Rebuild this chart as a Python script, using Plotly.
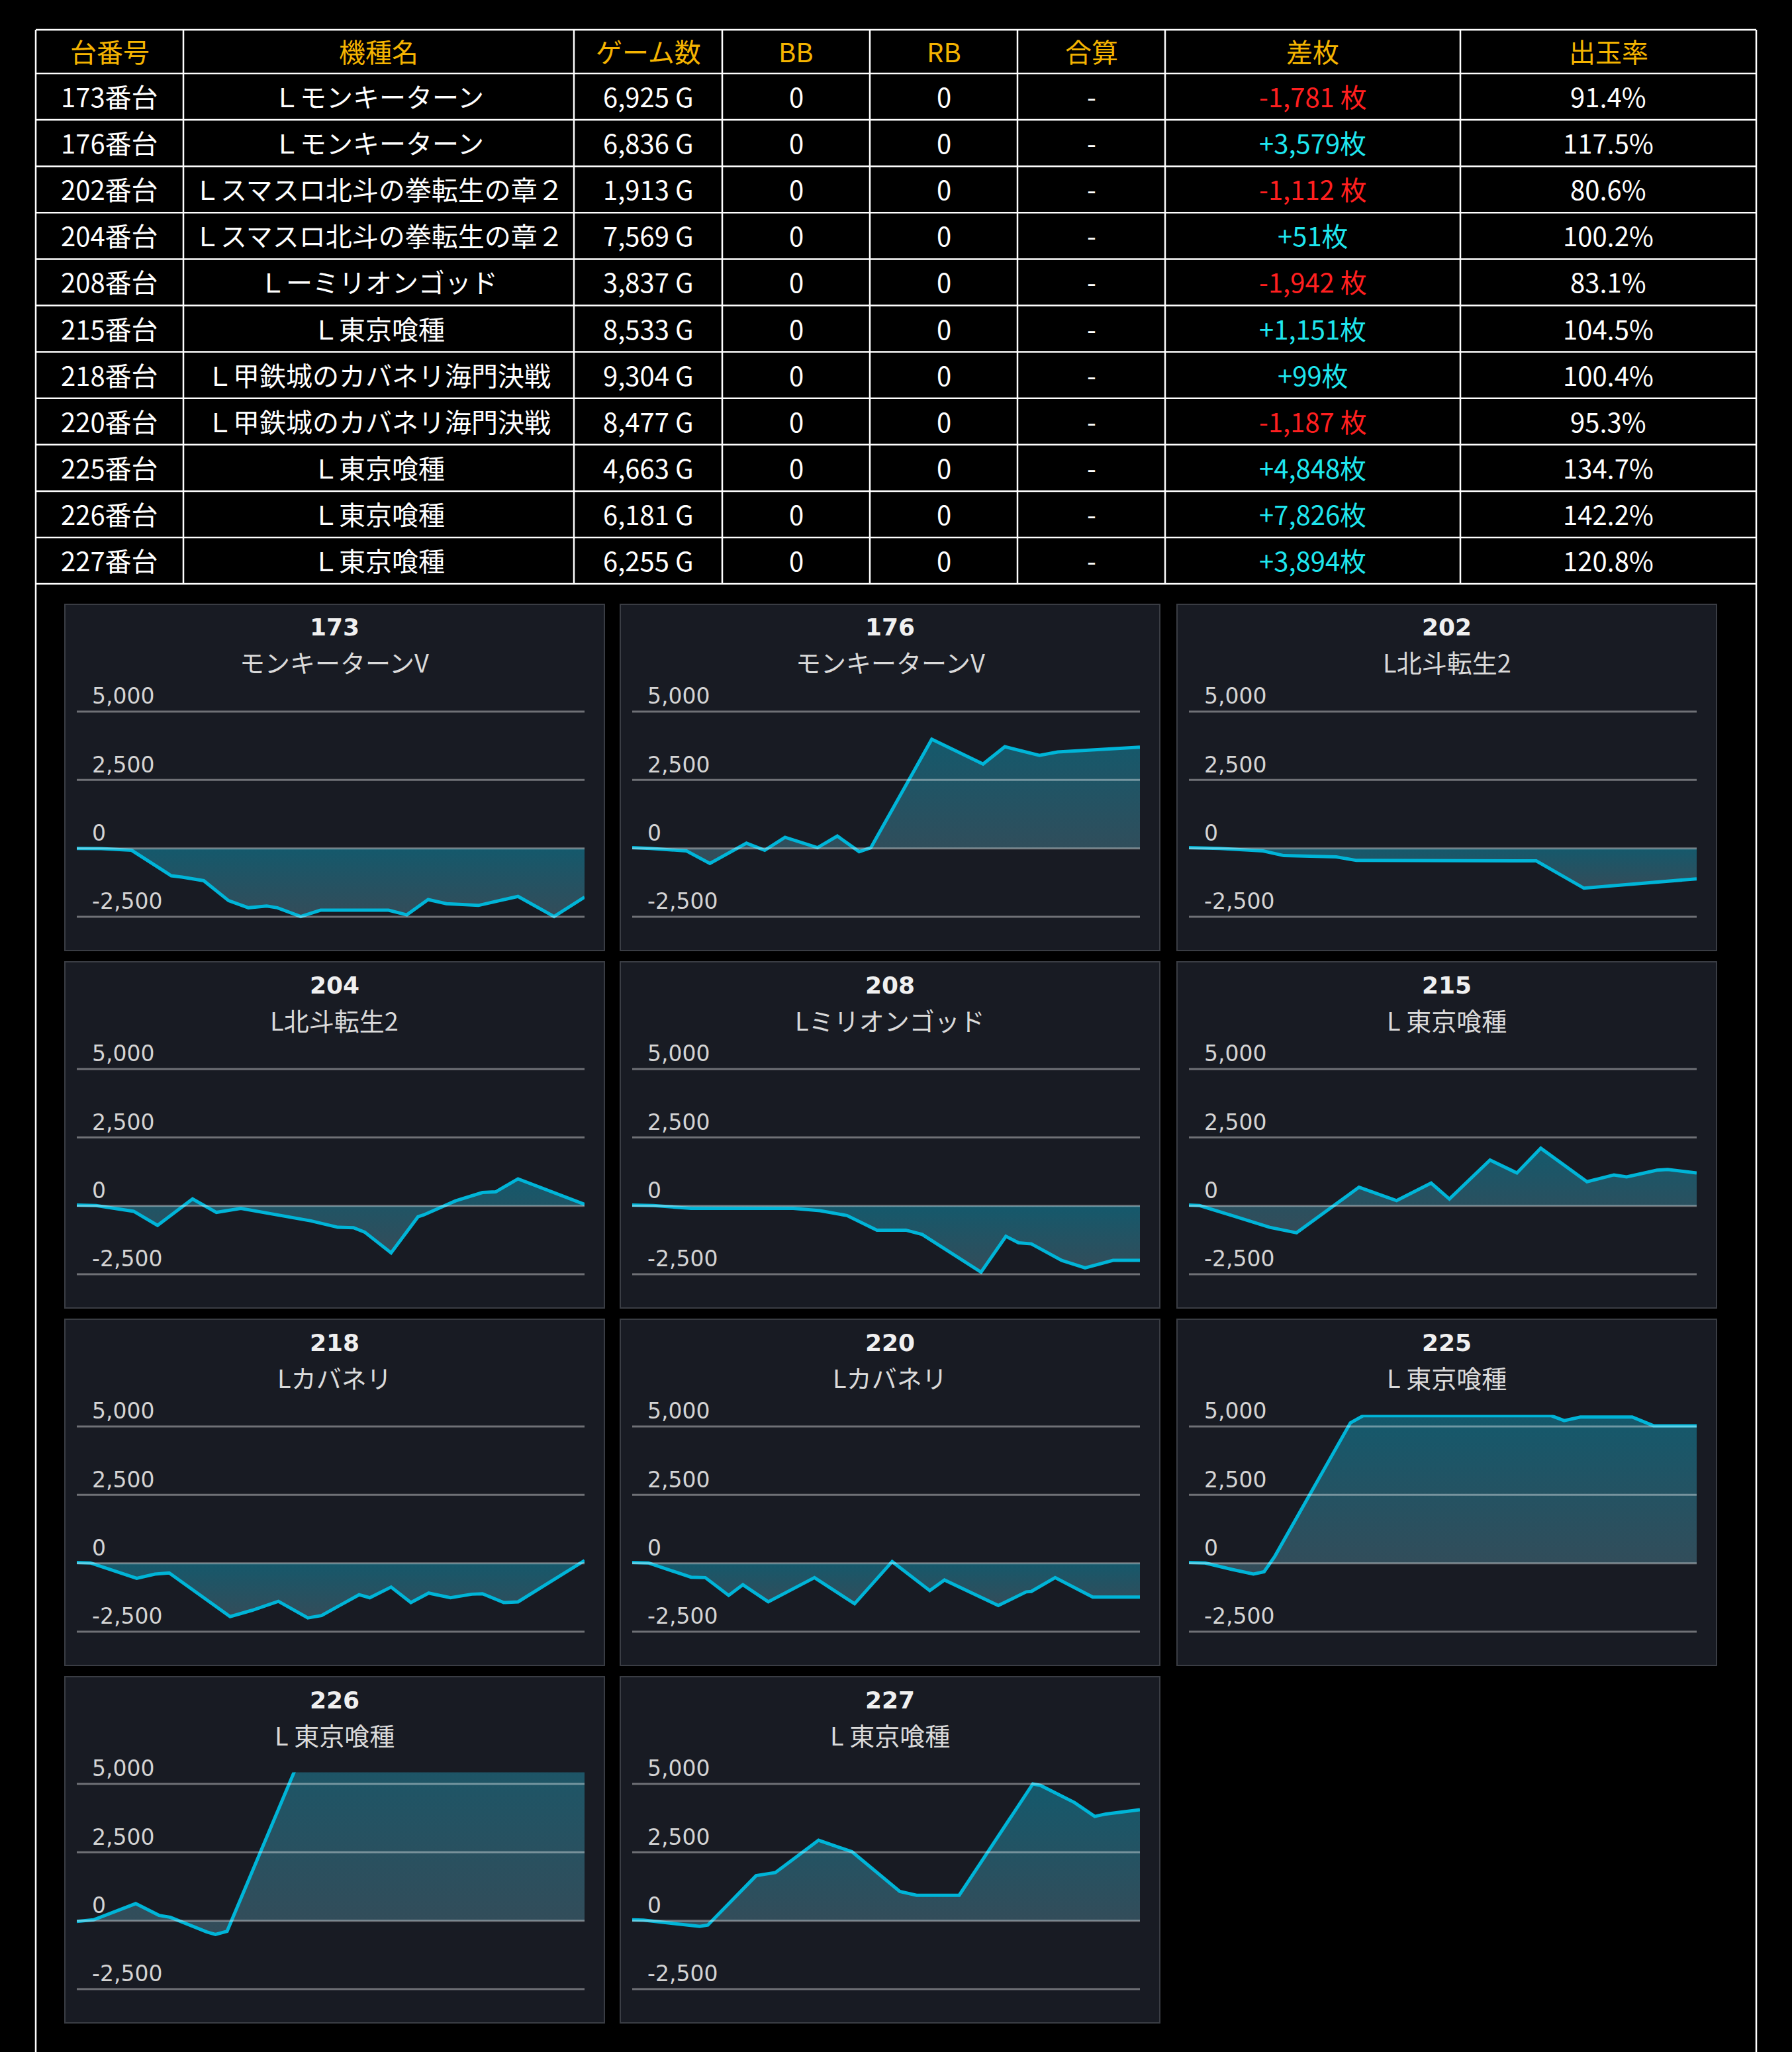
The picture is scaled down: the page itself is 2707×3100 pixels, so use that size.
import plotly.graph_objects as go

W, H = 2707, 3100

# ---- table data ----
unit_no = ["173番台", "176番台", "202番台", "204番台", "208番台", "215番台",
           "218番台", "220番台", "225番台", "226番台", "227番台"]
machine = ["Ｌモンキーターン", "Ｌモンキーターン", "Ｌスマスロ北斗の拳転生の章２",
           "Ｌスマスロ北斗の拳転生の章２", "Ｌーミリオンゴッド", "Ｌ東京喰種",
           "Ｌ甲鉄城のカバネリ海門決戦", "Ｌ甲鉄城のカバネリ海門決戦",
           "Ｌ東京喰種", "Ｌ東京喰種", "Ｌ東京喰種"]
games = ["6,925 G", "6,836 G", "1,913 G", "7,569 G", "3,837 G", "8,533 G",
         "9,304 G", "8,477 G", "4,663 G", "6,181 G", "6,255 G"]
bb = ["0", "0", "0", "0", "0", "0", "0", "0", "0", "0", "0"]
rb = ["0", "0", "0", "0", "0", "0", "0", "0", "0", "0", "0"]
total = ["-", "-", "-", "-", "-", "-", "-", "-", "-", "-", "-"]
diff = ["-1,781 枚", "+3,579枚", "-1,112 枚", "+51枚", "-1,942 枚", "+1,151枚",
        "+99枚", "-1,187 枚", "+4,848枚", "+7,826枚", "+3,894枚"]
rate = ["91.4%", "117.5%", "80.6%", "100.2%", "83.1%", "104.5%",
        "100.4%", "95.3%", "134.7%", "142.2%", "120.8%"]
headers = ["台番号", "機種名", "ゲーム数", "BB", "RB", "合算", "差枚", "出玉率"]

# ---- chart data (x = % of the day's games, y = 差枚) ----
panel_no = ["173", "176", "202", "204", "208", "215", "218", "220", "225", "226", "227"]
panel_name = ["モンキーターンV", "モンキーターンV", "L北斗転生2", "L北斗転生2",
              "Lミリオンゴッド", "L 東京喰種", "Lカバネリ", "Lカバネリ",
              "L 東京喰種", "L 東京喰種", "L 東京喰種"]

x173 = [0, 4.8, 10.8, 18.6, 20.7, 25.0, 29.9, 33.8, 37.4, 39.5, 44.1, 48.0, 61.4, 65.0,
        69.2, 72.8, 79.1, 86.9, 94.0, 100]
y173 = [0, -10, -70, -1000, -1050, -1180, -1910, -2170, -2110, -2170, -2490, -2260,
        -2260, -2430, -1870, -2020, -2085, -1755, -2490, -1781]

x176 = [0, 3.6, 10.7, 15.3, 22.5, 26.1, 30.1, 36.5, 40.4, 44.7, 47.0, 59.0, 69.1, 73.4,
        80.2, 83.8, 100]
y176 = [30, 0, -95, -550, 190, -70, 405, 25, 450, -120, 25, 3990, 3080, 3715, 3400,
        3525, 3700]

x202 = [0, 6.0, 14.6, 18.7, 29.0, 33.0, 68.4, 77.8, 100]
y202 = [25, 0, -95, -265, -310, -440, -455, -1455, -1112]

x204 = [0, 3.8, 11.2, 15.9, 22.8, 27.5, 32.3, 37.6, 46.1, 51.4, 54.5, 56.7, 61.9, 67.2,
        68.3, 74.6, 79.9, 82.5, 86.9, 100]
y204 = [25, 10, -200, -715, 250, -240, -95, -270, -550, -785, -800, -960, -1720, -400,
        -335, 180, 485, 510, 985, 51]

x208 = [0, 4.2, 11.6, 31.7, 37.0, 42.3, 48.2, 53.9, 57.1, 63.0, 68.7, 73.6, 76.1, 78.6,
        84.6, 89.2, 94.7, 100]
y208 = [25, 10, -95, -95, -180, -355, -890, -890, -1045, -1735, -2425, -1115, -1350,
        -1390, -1995, -2270, -1995, -1995]

x215 = [0, 2.1, 8.5, 15.9, 21.2, 33.5, 40.9, 47.7, 51.3, 59.3, 64.6, 69.3, 78.4, 83.7,
        86.2, 92.2, 94.3, 100]
y215 = [25, 10, -355, -785, -985, 680, 190, 830, 250, 1675, 1200, 2105, 880, 1130, 1055,
        1305, 1330, 1200]

x218 = [0, 2.7, 11.8, 15.4, 18.2, 30.2, 34.5, 39.7, 45.5, 48.2, 55.6, 57.7, 61.9, 65.8,
        69.3, 73.6, 77.8, 79.9, 84.1, 86.9, 100]
y218 = [25, 10, -550, -395, -355, -1950, -1720, -1390, -1995, -1910, -1150, -1260, -870,
        -1435, -1090, -1260, -1130, -1115, -1435, -1410, 99]

x220 = [0, 3.2, 11.6, 14.4, 19.0, 21.8, 26.8, 35.9, 43.8, 51.2, 58.6, 61.5, 72.1, 77.6,
        78.6, 83.3, 90.7, 100]
y220 = [25, 10, -510, -525, -1175, -785, -1410, -525, -1480, 60, -1000, -610, -1545,
        -1045, -1030, -525, -1235, -1235]

x225 = [0, 3.2, 8.5, 12.7, 14.8, 16.9, 31.8, 34.3, 71.4, 73.9, 77.1, 87.3, 91.5, 100]
y225 = [25, 10, -225, -395, -310, 250, 5130, 5390, 5390, 5215, 5345, 5345, 5025, 5025]

x226 = [0, 3.3, 11.6, 16.2, 18.4, 25.6, 27.3, 29.6, 43.3, 70.0, 100]
y226 = [-25, 35, 625, 195, 125, -410, -500, -385, 5650, 7300, 7826]

x227 = [0, 2.2, 13.3, 14.9, 24.4, 28.2, 36.7, 43.3, 52.7, 56.0, 64.4, 78.9, 80.4, 87.1,
        91.1, 93.3, 100]
y227 = [35, 20, -205, -160, 1645, 1760, 2940, 2520, 1070, 930, 930, 5000, 4945, 4320,
        3810, 3900, 4055]

series_x = [x173, x176, x202, x204, x208, x215, x218, x220, x225, x226, x227]
series_y = [y173, y176, y202, y204, y208, y215, y218, y220, y225, y226, y227]

y_ticks = [-2500, 0, 2500, 5000]
y_tick_text = ["-2,500", "0", "2,500", "5,000"]
y_range = [-2800, 5420]

# ---- layout geometry (pixels) ----
col_edges = [54, 277, 867, 1091, 1314, 1537, 1760, 2206, 2653]
header_top, header_h, row_h = 45, 66, 70.1
col_left = [98, 937, 1778]
row_top = [913, 1453, 1993, 2533]
panel_w, panel_h = 815, 523

FONT_JP = "Noto Sans CJK JP"
FONT_NUM = "DejaVu Sans, Noto Sans CJK JP"
LINE = "#00b5d8"


def px(x):
    return x / W


def py(y):
    return 1 - y / H


fig = go.Figure()
shapes = []
annotations = []

# ---- table: grid lines + cell text ----
row_edges = [header_top, header_top + header_h]
for k in range(len(unit_no)):
    row_edges.append(row_edges[-1] + row_h)
tab_bottom = row_edges[-1]

for ye in row_edges:
    shapes.append(dict(type="line", xref="paper", yref="paper",
                       x0=px(col_edges[0]), x1=px(col_edges[-1]), y0=py(ye), y1=py(ye),
                       line=dict(color="#ffffff", width=2.5)))
for xe in col_edges:
    shapes.append(dict(type="line", xref="paper", yref="paper",
                       x0=px(xe), x1=px(xe), y0=py(row_edges[0]), y1=py(tab_bottom),
                       line=dict(color="#ffffff", width=2.5)))
# outer frame continuing below the table
for xe in (col_edges[0], col_edges[-1]):
    shapes.append(dict(type="line", xref="paper", yref="paper",
                       x0=px(xe), x1=px(xe), y0=py(tab_bottom), y1=0,
                       line=dict(color="#ffffff", width=2.5), layer="below"))

columns = [unit_no, machine, games, bb, rb, total, diff, rate]
for j, head in enumerate(headers):
    cx = px((col_edges[j] + col_edges[j + 1]) / 2)
    annotations.append(dict(xref="paper", yref="paper", x=cx,
                            y=py((row_edges[0] + row_edges[1]) / 2 - 1),
                            text=head, showarrow=False, xanchor="center", yanchor="middle",
                            font=dict(family=FONT_JP, size=40, color="#f5b400")))
    for k, val in enumerate(columns[j]):
        color = "#ffffff"
        if j == 6:
            color = "#ff1f1f" if val.startswith("-") else "#1fe6ee"
        annotations.append(dict(xref="paper", yref="paper", x=cx,
                                y=py((row_edges[k + 1] + row_edges[k + 2]) / 2 - 1),
                                text=val, showarrow=False, xanchor="center", yanchor="middle",
                                font=dict(family=FONT_JP, size=40, color=color)))

# ---- small charts ----
for i in range(len(panel_no)):
    r, c = divmod(i, 3)
    left, top = col_left[c], row_top[r]
    n = i + 1
    xa = "xaxis" if n == 1 else f"xaxis{n}"
    ya = "yaxis" if n == 1 else f"yaxis{n}"
    xr = "x" if n == 1 else f"x{n}"
    yr = "y" if n == 1 else f"y{n}"

    shapes.append(dict(type="rect", xref="paper", yref="paper",
                       x0=px(left), x1=px(left + panel_w), y0=py(top + panel_h), y1=py(top),
                       fillcolor="#181b23", line=dict(color="#3a3d44", width=2), layer="below"))

    fig.add_trace(go.Scatter(
        x=series_x[i], y=series_y[i], mode="lines", xaxis=xr, yaxis=yr,
        line=dict(color=LINE, width=5), fill="tozeroy",
        fillgradient=dict(type="vertical",
                          colorscale=[[0, "#344c59"], [1, "#14596c"]]),
        hoverinfo="skip", showlegend=False,
    ))

    fig.layout[xa] = dict(domain=[px(left + 18), px(left + 785)], range=[0, 100],
                          visible=False, anchor=yr, automargin=False)
    fig.layout[ya] = dict(domain=[py(top + 484.4), py(top + 144.6)], range=y_range,
                          anchor=xr, showgrid=False, zeroline=False, showline=False,
                          tickvals=y_ticks, ticktext=y_tick_text, automargin=False,
                          ticklabelposition="inside top", ticklabeloverflow="allow",
                          ticks="", ticklabelstandoff=20,
                          tickfont=dict(family=FONT_NUM, size=33, color="#d4d4d4"))

    for v in y_ticks:
        shapes.append(dict(type="line", xref=f"{xr} domain", yref=yr,
                           x0=0, x1=1, y0=v, y1=v,
                           line=dict(color="rgba(255,255,255,0.38)", width=3), layer="above"))

    cx = px(left + panel_w / 2)
    annotations.append(dict(xref="paper", yref="paper", x=cx, y=py(top + 35),
                            text=panel_no[i], showarrow=False, xanchor="center", yanchor="middle",
                            font=dict(family=FONT_NUM, size=36, color="#f0f0f0", weight=700)))
    annotations.append(dict(xref="paper", yref="paper", x=cx, y=py(top + 87),
                            text=panel_name[i], showarrow=False, xanchor="center", yanchor="middle",
                            font=dict(family=FONT_JP, size=38, color="#dadada")))

fig.update_layout(width=W, height=H,
                  margin=dict(l=0, r=0, t=0, b=0, pad=0, autoexpand=False),
                  paper_bgcolor="#000000", plot_bgcolor="rgba(0,0,0,0)",
                  shapes=shapes, annotations=annotations, showlegend=False)

fig.write_html("out.html", config={"displayModeBar": False},
               post_script="document.body.style.margin = '0';")
